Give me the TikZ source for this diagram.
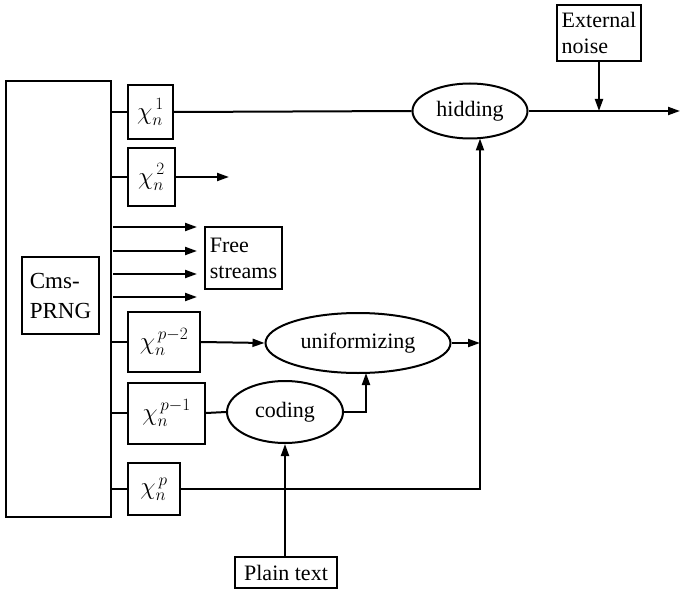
\documentclass[tikz,border=0pt]{standalone}
\usepackage{fontspec}
\setmainfont{Liberation Serif}
\usetikzlibrary{arrows.meta,shapes.geometric,calc}
\begin{document}
\begin{tikzpicture}[x=1pt,y=-1pt, line width=2pt,
  box/.style={draw, rectangle, inner sep=0pt, align=left},
  ell/.style={draw, ellipse, inner sep=0pt},
  arr/.style={-{Triangle[length=12pt,width=8pt]}},
  txt/.style={font=\fontsize{22}{26}\selectfont},
  mth/.style={font=\fontsize{25}{28}\selectfont}]
\useasboundingbox (0,0) rectangle (680,591);
% main generator
\node[box, minimum width=105, minimum height=436] (big) at (58.5,299) {};
\node[box, minimum width=77, minimum height=77, inner xsep=3pt, font=\fontsize{23}{30}\selectfont] (cms) at (60.5,295.5) {Cms-\\PRNG};
% stream boxes
\node[box, mth, minimum width=45, minimum height=54] (x1) at (150.5,112) {$\chi_{n}^{\,1}$};
\node[box, mth, minimum width=47, minimum height=58] (x2) at (151.5,177) {$\chi_{n}^{\,2}$};
\node[box, mth, minimum width=72, minimum height=60] (xp2) at (164,342) {$\chi_{n}^{\,p-2}$};
\node[box, mth, minimum width=77, minimum height=61] (xp1) at (166.5,413) {$\chi_{n}^{\,p-1}$};
\node[box, mth, minimum width=52, minimum height=52] (xp) at (154,489) {$\chi_{n}^{\,p}$};
% free streams
\node[box, txt, minimum width=77, minimum height=62, inner xsep=4pt] (free) at (243.5,258) {Free\\streams};
\coordinate (f1s) at (113,227); \coordinate (f1e) at (197,227);
\coordinate (f2s) at (113,251); \coordinate (f2e) at (197,251);
\coordinate (f3s) at (113,274); \coordinate (f3e) at (197,274);
\coordinate (f4s) at (113,297); \coordinate (f4e) at (197,297);
% processing ellipses
\node[ell, txt, minimum width=116, minimum height=62] (cod) at (285,412) {coding};
\node[ell, txt, minimum width=185, minimum height=60] (uni) at (358,343) {uniformizing};
\node[ell, txt, minimum width=115, minimum height=55] (hid) at (470,111) {hidding};
% inputs
\node[box, txt, minimum width=102, minimum height=31] (plain) at (286,572.5) {Plain text};
\node[box, txt, minimum width=84, minimum height=56, inner xsep=3pt] (noise) at (599,33) {External\\noise};
\coordinate (j) at (480,489);
\coordinate (out) at (680,111);
% connectors
\draw (big.east |- x1.west) -- (x1.west);
\draw (big.east |- x2.west) -- (x2.west);
\draw (big.east |- xp2.west) -- (xp2.west);
\draw (big.east |- xp1.west) -- (xp1.west);
\draw (big.east |- xp.west) -- (xp.west);
\draw[arr] (x2.east) -- ++(53,0) coordinate (x2e);
\draw[arr] (f1s) -- (f1e);
\draw[arr] (f2s) -- (f2e);
\draw[arr] (f3s) -- (f3e);
\draw[arr] (f4s) -- (f4e);
\draw (x1.east) -- (hid.west);
\draw[arr] (hid.east) -- (out);
\draw[arr] (noise.south) -- (noise.south |- hid.east);
\draw[arr] (xp2.east) -- (uni.west);
\draw (xp1.east) -- (cod.west);
\draw[arr] (plain.north -| cod.south) -- (cod.south);
\draw[arr] (cod.east) -| ($(uni.south)+(8,-1)$);
\draw[arr] (uni.east) -- (uni.east -| j);
\draw[arr] (xp.east) -- (j) -- ($(j |- hid.south)+(0,-1)$);
\end{tikzpicture}
\end{document}
